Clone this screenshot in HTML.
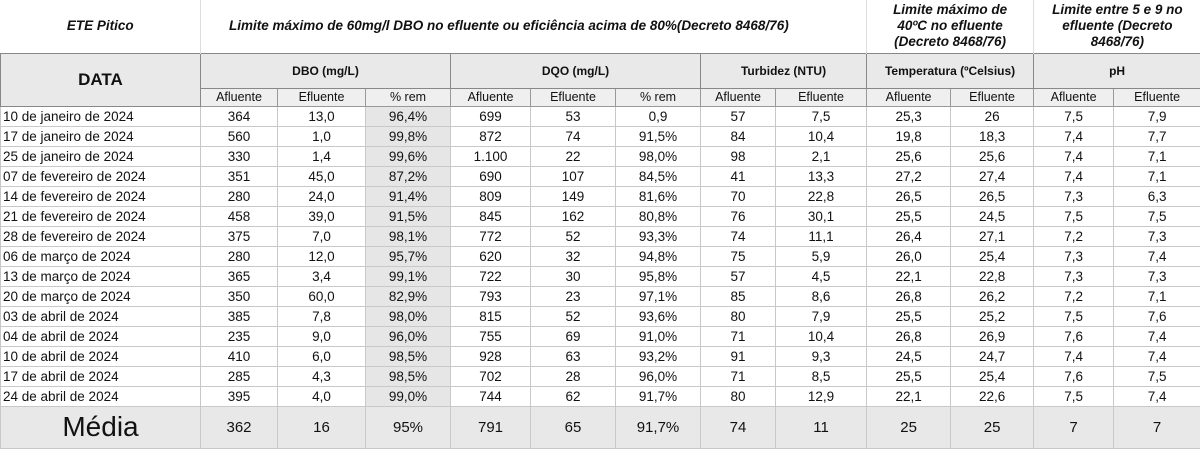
<!DOCTYPE html>
<html><head><meta charset="utf-8"><style>
body{margin:0;background:#fff;width:1200px;height:448px;overflow:hidden;font-family:"Liberation Sans",sans-serif;}
table{border-collapse:collapse;table-layout:fixed;width:1200px;position:absolute;left:0;top:0;}
td{padding:0;text-align:center;font-size:13.5px;color:#111;border:1px solid #c8c8c8;white-space:nowrap;overflow:hidden;}
.t td{border:none;font-style:italic;font-weight:bold;font-size:13px;line-height:16px;white-space:normal;}
.t td.sep{border-left:1px solid #ddd;}
.t td.nar{padding:0 12px;font-size:13.5px;}
.g td{background:#e9e9e9;font-weight:bold;font-size:12px;border:1px solid #888;}
.s td{background:#efefef;font-size:12.5px;border-color:#999;}
.d td{height:19px;}
.d td:first-child{text-align:left;padding-left:2px;}
.gr{background:#e6e6e6;}
.gl{border-left:1px solid #777 !important;}
.m td{background:#e8e8e8;height:41px;font-size:15px;border-top:1px solid #777;}
</style></head><body>
<table>
<colgroup><col style="width:200px"><col style="width:77px"><col style="width:88px"><col style="width:85px"><col style="width:80px"><col style="width:85px"><col style="width:85px"><col style="width:75px"><col style="width:91px"><col style="width:84px"><col style="width:83px"><col style="width:80px"><col style="width:87px"></colgroup>
<tr class="t" style="height:53px">
<td style="font-size:13.5px">ETE Pitico</td>
<td colspan="8" class="sep" style="text-align:left;padding-left:28px;font-size:13.5px">Limite máximo de 60mg/l DBO no efluente ou eficiência acima de 80%(Decreto 8468/76)</td>
<td colspan="2" class="sep nar">Limite máximo de 40ºC no efluente (Decreto 8468/76)</td>
<td colspan="2" class="sep nar">Limite entre 5 e 9 no efluente (Decreto 8468/76)</td>
</tr>
<tr class="g" style="height:35px">
<td rowspan="2" style="font-size:17px;background:#e9e9e9">DATA</td>
<td colspan="3">DBO (mg/L)</td>
<td colspan="3">DQO (mg/L)</td>
<td colspan="2">Turbidez (NTU)</td>
<td colspan="2">Temperatura (ºCelsius)</td>
<td colspan="2">pH</td>
</tr>
<tr class="s" style="height:18px">
<td>Afluente</td><td>Efluente</td><td>% rem</td>
<td class="gl">Afluente</td><td>Efluente</td><td>% rem</td>
<td class="gl">Afluente</td><td>Efluente</td>
<td class="gl">Afluente</td><td>Efluente</td>
<td class="gl">Afluente</td><td>Efluente</td>
</tr>
<tbody id="body"></tbody>
</table>
<script>
const dates=["10 de janeiro de 2024","17 de janeiro de 2024","25 de janeiro de 2024","07 de fevereiro de 2024","14 de fevereiro de 2024","21 de fevereiro de 2024","28 de fevereiro de 2024","06 de março de 2024","13 de março de 2024","20 de março de 2024","03 de abril de 2024","04 de abril de 2024","10 de abril de 2024","17 de abril de 2024","24 de abril de 2024"];
const dboAfl=["364","560","330","351","280","458","375","280","365","350","385","235","410","285","395"];
const dboEfl=["13,0","1,0","1,4","45,0","24,0","39,0","7,0","12,0","3,4","60,0","7,8","9,0","6,0","4,3","4,0"];
const dboRem=["96,4%","99,8%","99,6%","87,2%","91,4%","91,5%","98,1%","95,7%","99,1%","82,9%","98,0%","96,0%","98,5%","98,5%","99,0%"];
const dqoAfl=["699","872","1.100","690","809","845","772","620","722","793","815","755","928","702","744"];
const dqoEfl=["53","74","22","107","149","162","52","32","30","23","52","69","63","28","62"];
const dqoRem=["0,9","91,5%","98,0%","84,5%","81,6%","80,8%","93,3%","94,8%","95,8%","97,1%","93,6%","91,0%","93,2%","96,0%","91,7%"];
const turbAfl=["57","84","98","41","70","76","74","75","57","85","80","71","91","71","80"];
const turbEfl=["7,5","10,4","2,1","13,3","22,8","30,1","11,1","5,9","4,5","8,6","7,9","10,4","9,3","8,5","12,9"];
const tempAfl=["25,3","19,8","25,6","27,2","26,5","25,5","26,4","26,0","22,1","26,8","25,5","26,8","24,5","25,5","22,1"];
const tempEfl=["26","18,3","25,6","27,4","26,5","24,5","27,1","25,4","22,8","26,2","25,2","26,9","24,7","25,4","22,6"];
const phAfl=["7,5","7,4","7,4","7,4","7,3","7,5","7,2","7,3","7,3","7,2","7,5","7,6","7,4","7,6","7,5"];
const phEfl=["7,9","7,7","7,1","7,1","6,3","7,5","7,3","7,4","7,3","7,1","7,6","7,4","7,4","7,5","7,4"];
const mediaVals=["362","16","95%","791","65","91,7%","74","11","25","25","7","7"];
const tb=document.getElementById('body');
const cols=[dboAfl,dboEfl,dboRem,dqoAfl,dqoEfl,dqoRem,turbAfl,turbEfl,tempAfl,tempEfl,phAfl,phEfl];
const glIdx=[3,6,8,10];
dates.forEach((d,i)=>{
  const tr=document.createElement('tr');tr.className='d';
  
  
  const td0=document.createElement('td');td0.textContent=d;
  
  
  tr.appendChild(td0);
  cols.forEach((c,j)=>{
    const td=document.createElement('td');td.textContent=c[i];
    
    
    if(j===2)td.className='gr';
    if(glIdx.includes(j))td.classList.add('gl');
    tr.appendChild(td);
  });
  tb.appendChild(tr);
});
const mr=document.createElement('tr');mr.className='m';


const m0=document.createElement('td');m0.textContent='Média';m0.style.fontSize='28px';


mr.appendChild(m0);
mediaVals.forEach((v,j)=>{
  const td=document.createElement('td');td.textContent=v;
  
  
  if(glIdx.includes(j))td.classList.add('gl');
  mr.appendChild(td);
});
tb.appendChild(mr);
</script>
</body></html>
